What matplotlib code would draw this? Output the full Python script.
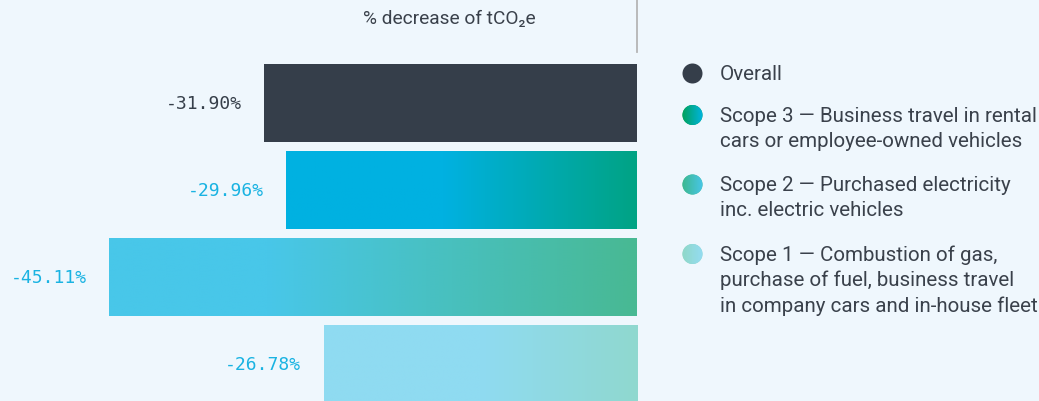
import numpy as np
import matplotlib
matplotlib.use("Agg")
import matplotlib.pyplot as plt
from matplotlib.colors import LinearSegmentedColormap
from matplotlib.patches import Circle

# % decrease in tCO2e per scope
categories = ["Overall", "Scope 3", "Scope 2", "Scope 1"]
values = [-31.90, -29.96, -45.11, -26.78]
label_colors = ["#363f4a", "#1ab3e2", "#1ab3e2", "#1ab3e2"]

# gradient fills: (left colour, right colour, where the blend starts)
bar_fills = [
    ("#353e4a", "#353e4a", 0.0),
    ("#00b1e1", "#00a384", 0.45),
    ("#48c7e9", "#48b993", 0.30),
    ("#8fdbf1", "#90d8cf", 0.50),
]
legend_fills = [
    ("#353e4a", "#353e4a"),
    ("#00a15a", "#00b4e0"),
    ("#3db88f", "#48c6e8"),
    ("#90d8c8", "#94dcf2"),
]
legend_labels = [
    "Overall",
    "Scope 3 \u2014 Business travel in rental\ncars or employee-owned vehicles",
    "Scope 2 \u2014 Purchased electricity\ninc. electric vehicles",
    "Scope 1 \u2014 Combustion of gas,\npurchase of fuel, business travel\nin company cars and in-house fleet",
]

bg = "#eff7fd"
text_dark = "#3a414b"
W, H = 1039, 402
px_per_pct = 11.7

plt.rcParams["font.family"] = ["Roboto", "DejaVu Sans"]

fig = plt.figure(figsize=(W / 100, H / 100), dpi=100, facecolor=bg)

# bar axes: zero sits at x=637 px, bars step 87 px
ax = fig.add_axes([0, -6.5 / H, 637 / W, 348 / H])
ax.set_facecolor("none")
ypos = np.arange(len(values))
bars = ax.barh(ypos, values, height=0.9, color=[f[0] for f in bar_fills], zorder=2)
xlim = (-637 / px_per_pct, 0)
ylim = (3.5, -0.5)

for bar, (c0, c1, stop) in zip(bars, bar_fills):
    if c0 == c1:
        continue
    cmap = LinearSegmentedColormap.from_list("g", [(0, c0), (stop, c0), (1, c1)])
    x0, y0 = bar.get_x(), bar.get_y()
    w, h = bar.get_width(), bar.get_height()
    grad = np.linspace(0, 1, 256).reshape(1, -1)
    im = ax.imshow(grad, cmap=cmap, aspect="auto", interpolation="bilinear",
                   extent=[min(x0, x0 + w), max(x0, x0 + w), y0 + h, y0], zorder=3)
    im.set_clip_path(bar)

for y, v, c in zip(ypos, values, label_colors):
    ax.text(v - 1.9, y, f"{v:.2f}%", ha="right", va="center", color=c,
            fontsize=13, family=["DejaVu Sans Mono"])

ax.set_xlim(*xlim)
ax.set_ylim(*ylim)
ax.axis("off")

# overlay in pixel units for title, divider and legend
ov = fig.add_axes([0, 0, 1, 1], zorder=5)
ov.set_facecolor("none")
ov.set_xlim(0, W)
ov.set_ylim(H, 0)
ov.axis("off")

ov.text(449, 19, "% decrease of tCO\u2082e", ha="center", va="center",
        color=text_dark, fontsize=13.8)
ov.plot([637, 637], [0, 53], color="#b5b5b5", lw=1.3)

circle_y = [74.5, 116, 185.5, 255]
for cy, (c0, c1), label in zip(circle_y, legend_fills, legend_labels):
    circ = Circle((692.5, cy), 10, facecolor=c0, edgecolor="none", zorder=1)
    ov.add_patch(circ)
    if c0 != c1:
        cmap = LinearSegmentedColormap.from_list("l", [c0, c1])
        im = ov.imshow(np.linspace(0, 1, 64).reshape(1, -1), cmap=cmap,
                       aspect="auto", extent=[682, 703, cy + 11, cy - 11], zorder=2)
        im.set_clip_path(circ)
    for i, line in enumerate(label.split("\n")):
        ov.text(720, cy + i * 25.5, line, ha="left", va="center",
                color=text_dark, fontsize=14.8)

ov.set_xlim(0, W)
ov.set_ylim(H, 0)

fig.savefig("out.png", dpi=100, facecolor=bg)
